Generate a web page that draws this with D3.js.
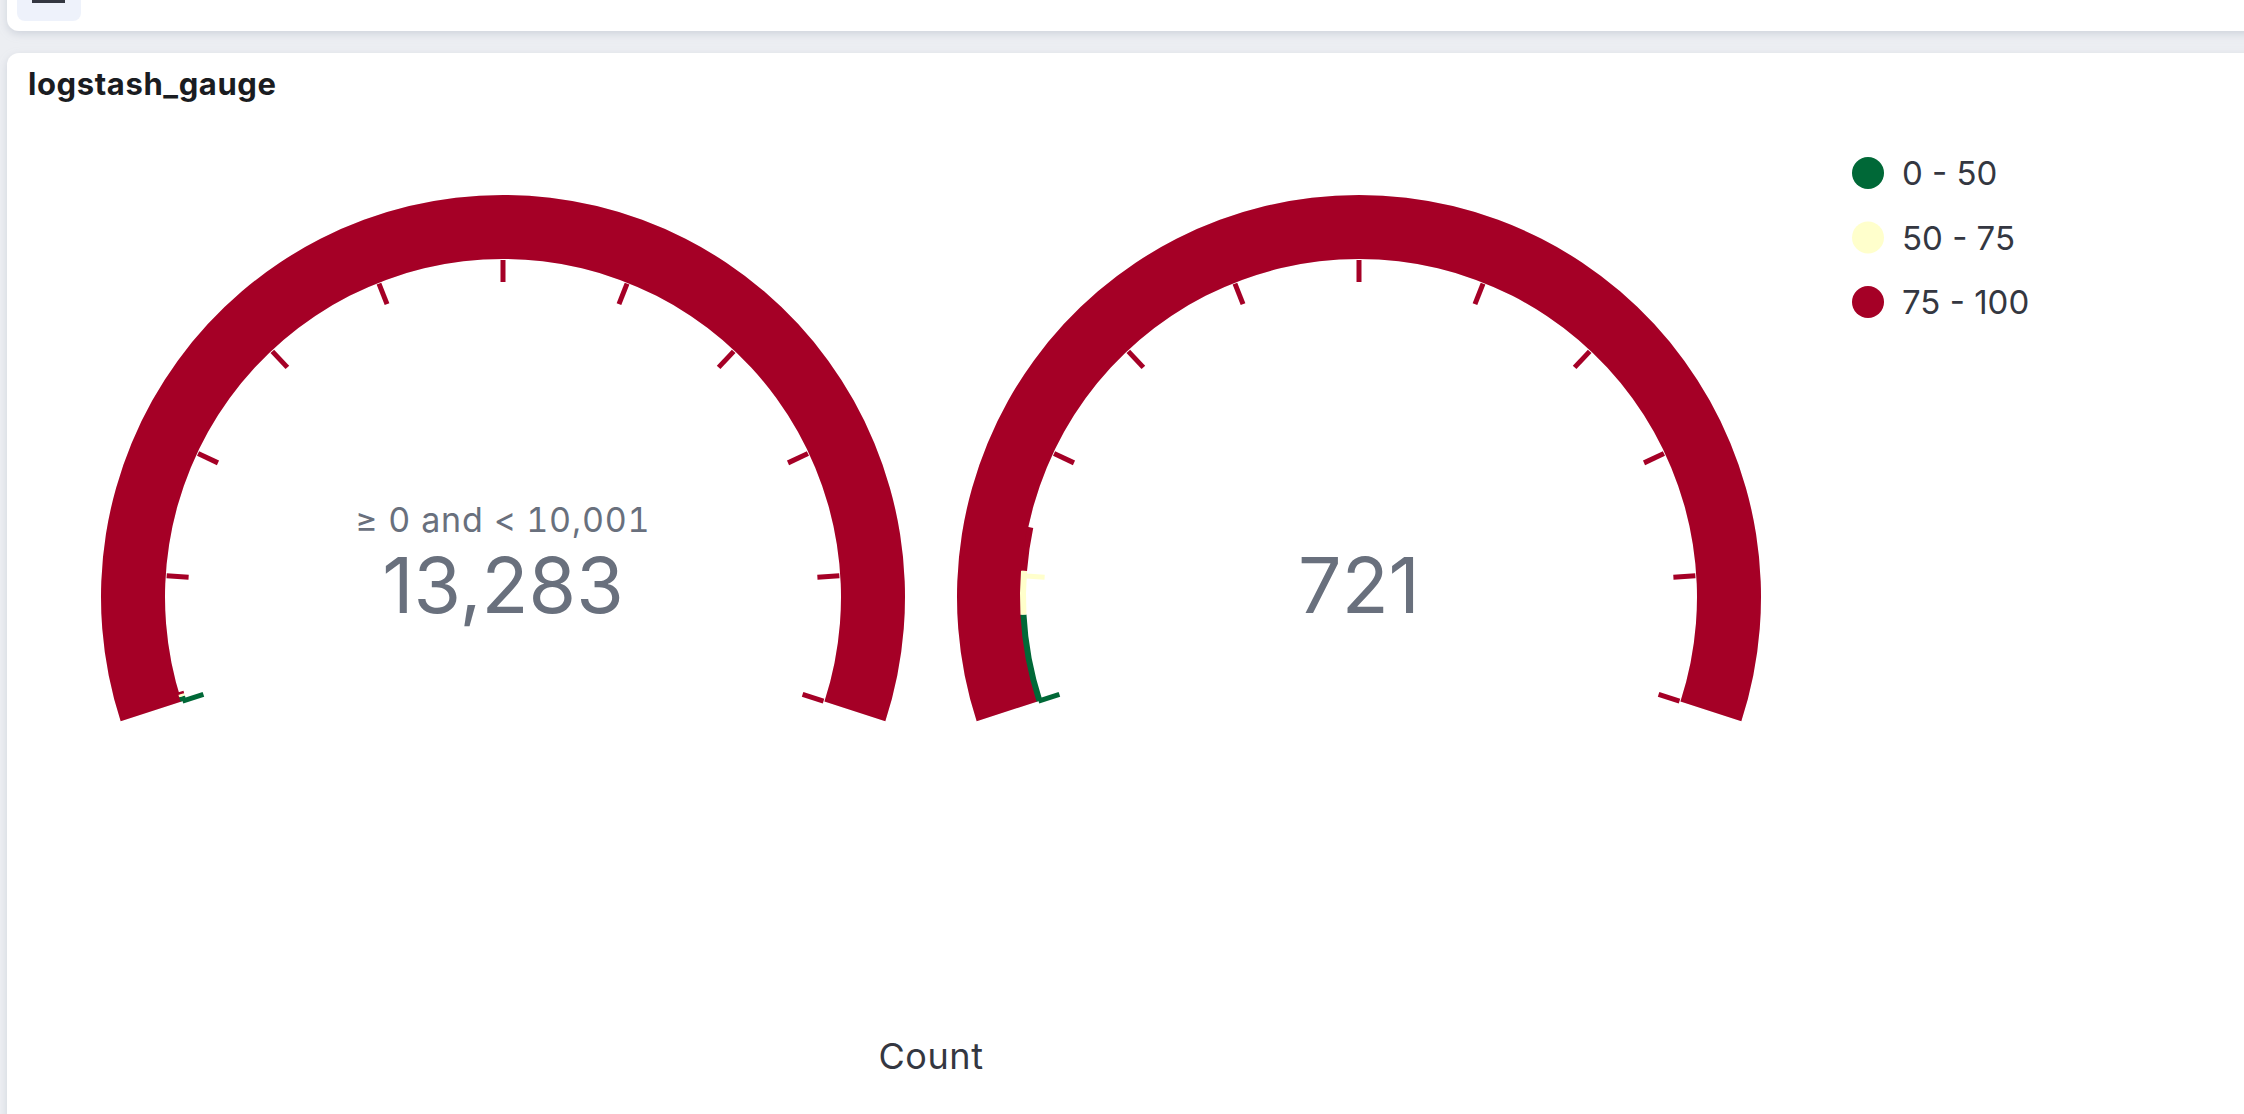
<!DOCTYPE html>
<html>
<head>
<meta charset="utf-8">
<script src="https://cdn.jsdelivr.net/npm/d3@7"></script>
<style>
  body { margin: 0; background: #eceef2; font-family: Inter, "Noto Sans", sans-serif; }
  svg { display: block; }
  .num { font-variant-numeric: tabular-nums; }
</style>
</head>
<body>
<div id="chart-area"></div>
<script>
// gauge data
var gaugeValues = [13283, 721];
var gaugeSubLabels = ["\u2265 0 and < 10,001", ""];
var rangeFrom = [0, 50, 75];
var rangeTo = [50, 75, 100];
var rangeColors = ["#006837", "#ffffcc", "#a50026"];
var legendLabels = ["0 - 50", "50 - 75", "75 - 100"];
var axisTitle = "Count";
var panelTitle = "logstash_gauge";
var tickCount = 10;

var width = 2244,
	height = 1114;

var svg = d3.select("#chart-area").append("svg")
	.attr("width", width)
	.attr("height", height);

// page background + panels
var defs = svg.append("defs");
var shadow = defs.append("filter").attr("id", "shadow")
	.attr("x", "-5%").attr("y", "-50%").attr("width", "110%").attr("height", "200%");
shadow.append("feDropShadow")
	.attr("dx", 0).attr("dy", 3).attr("stdDeviation", 4)
	.attr("flood-color", "#98a2b3").attr("flood-opacity", 0.35);

svg.append("rect")
	.attr("width", width).attr("height", height)
	.attr("fill", "#eceef2");

// bottom of previous panel
svg.append("rect")
	.attr("x", 7).attr("y", -60)
	.attr("width", width + 40).attr("height", 91)
	.attr("rx", 12)
	.attr("fill", "#fff")
	.attr("filter", "url(#shadow)");
svg.append("rect")
	.attr("x", 17).attr("y", -12)
	.attr("width", 64).attr("height", 33)
	.attr("rx", 8)
	.attr("fill", "#eef2fb");
svg.append("rect")
	.attr("x", 32).attr("y", 0)
	.attr("width", 33).attr("height", 3)
	.attr("fill", "#343741");

// gauge panel
svg.append("rect")
	.attr("x", 7).attr("y", 53)
	.attr("width", width + 40).attr("height", height)
	.attr("rx", 12)
	.attr("fill", "#fff")
	.attr("filter", "url(#shadow)");

svg.append("text")
	.attr("x", 28)
	.attr("y", 95)
	.attr("font-size", 31)
	.attr("font-weight", 700)
	.attr("letter-spacing", 0.6)
	.attr("fill", "#1a1c21")
	.text(panelTitle);

// gauge geometry
var centersX = [503, 1359],
	centerY = 597;
var outerR = 402,
	innerR = 338,
	scaleInner = 333,
	scaleOuter = 339,
	tickLen = 22;
var maxAngle = Math.PI * 0.6;

var colorOf = d3.scaleThreshold()
	.domain([rangeTo[0], rangeTo[1]])
	.range(rangeColors);

var arc = d3.arc();

gaugeValues.forEach(function (value, gi) {
	var max = Math.max(value, d3.max(rangeTo));
	var angle = d3.scaleLinear()
		.domain([0, max])
		.range([-maxAngle, maxAngle])
		.clamp(true);

	var g = svg.append("g")
		.attr("transform", "translate(" + centersX[gi] + "," + centerY + ")");

	// background
	g.append("path")
		.attr("d", arc({innerRadius: innerR, outerRadius: outerR, startAngle: -maxAngle, endAngle: maxAngle}))
		.attr("fill", "#eeeeee");

	// value
	g.append("path")
		.attr("d", arc({innerRadius: innerR, outerRadius: outerR, startAngle: angle(0), endAngle: angle(value)}))
		.attr("fill", colorOf(value));

	// range scale arc
	g.selectAll(".scale-arc")
		.data(rangeFrom)
		.enter()
		.append("path")
		.attr("class", "scale-arc")
		.attr("d", (d, i) => arc({innerRadius: scaleInner, outerRadius: scaleOuter,
			startAngle: angle(d), endAngle: angle(rangeTo[i])}))
		.attr("fill", (d, i) => rangeColors[i]);

	// ticks
	var ticks = d3.range(tickCount + 1).map(i => max * i / tickCount);
	g.selectAll(".tick")
		.data(ticks)
		.enter()
		.append("line")
		.attr("class", "tick")
		.attr("x1", d => Math.sin(angle(d)) * (innerR - 1))
		.attr("y1", d => -Math.cos(angle(d)) * (innerR - 1))
		.attr("x2", d => Math.sin(angle(d)) * (innerR - 1 - tickLen))
		.attr("y2", d => -Math.cos(angle(d)) * (innerR - 1 - tickLen))
		.attr("stroke", d => colorOf(d))
		.attr("stroke-width", 5);

	// labels
	g.append("text")
		.attr("class", "num")
		.attr("text-anchor", "middle")
		.attr("y", -65)
		.attr("font-size", 34)
		.attr("letter-spacing", 0.8)
		.attr("fill", "#69707d")
		.text(gaugeSubLabels[gi]);

	g.append("text")
		.attr("text-anchor", "middle")
		.attr("y", 16)
		.attr("font-size", 77)
		.attr("fill", "#69707d")
		.text(d3.format(",")(value));
});

// axis title
svg.append("text")
	.attr("x", (centersX[0] + centersX[1]) / 2)
	.attr("y", 1069)
	.attr("text-anchor", "middle")
	.attr("font-size", 36)
	.attr("letter-spacing", 0.6)
	.attr("fill", "#343741")
	.text(axisTitle);

// legend
var legend = svg.append("g")
	.attr("transform", "translate(1868,173)");

var items = legend.selectAll(".legend-item")
	.data(legendLabels)
	.enter()
	.append("g")
	.attr("class", "legend-item")
	.attr("transform", (d, i) => "translate(0," + i * 64.5 + ")");

items.append("circle")
	.attr("r", 16)
	.attr("fill", (d, i) => rangeColors[i]);

items.append("text")
	.attr("x", 34)
	.attr("y", 12)
	.attr("font-size", 33)
	.attr("fill", "#343741")
	.text(d => d);
</script>
</body>
</html>
